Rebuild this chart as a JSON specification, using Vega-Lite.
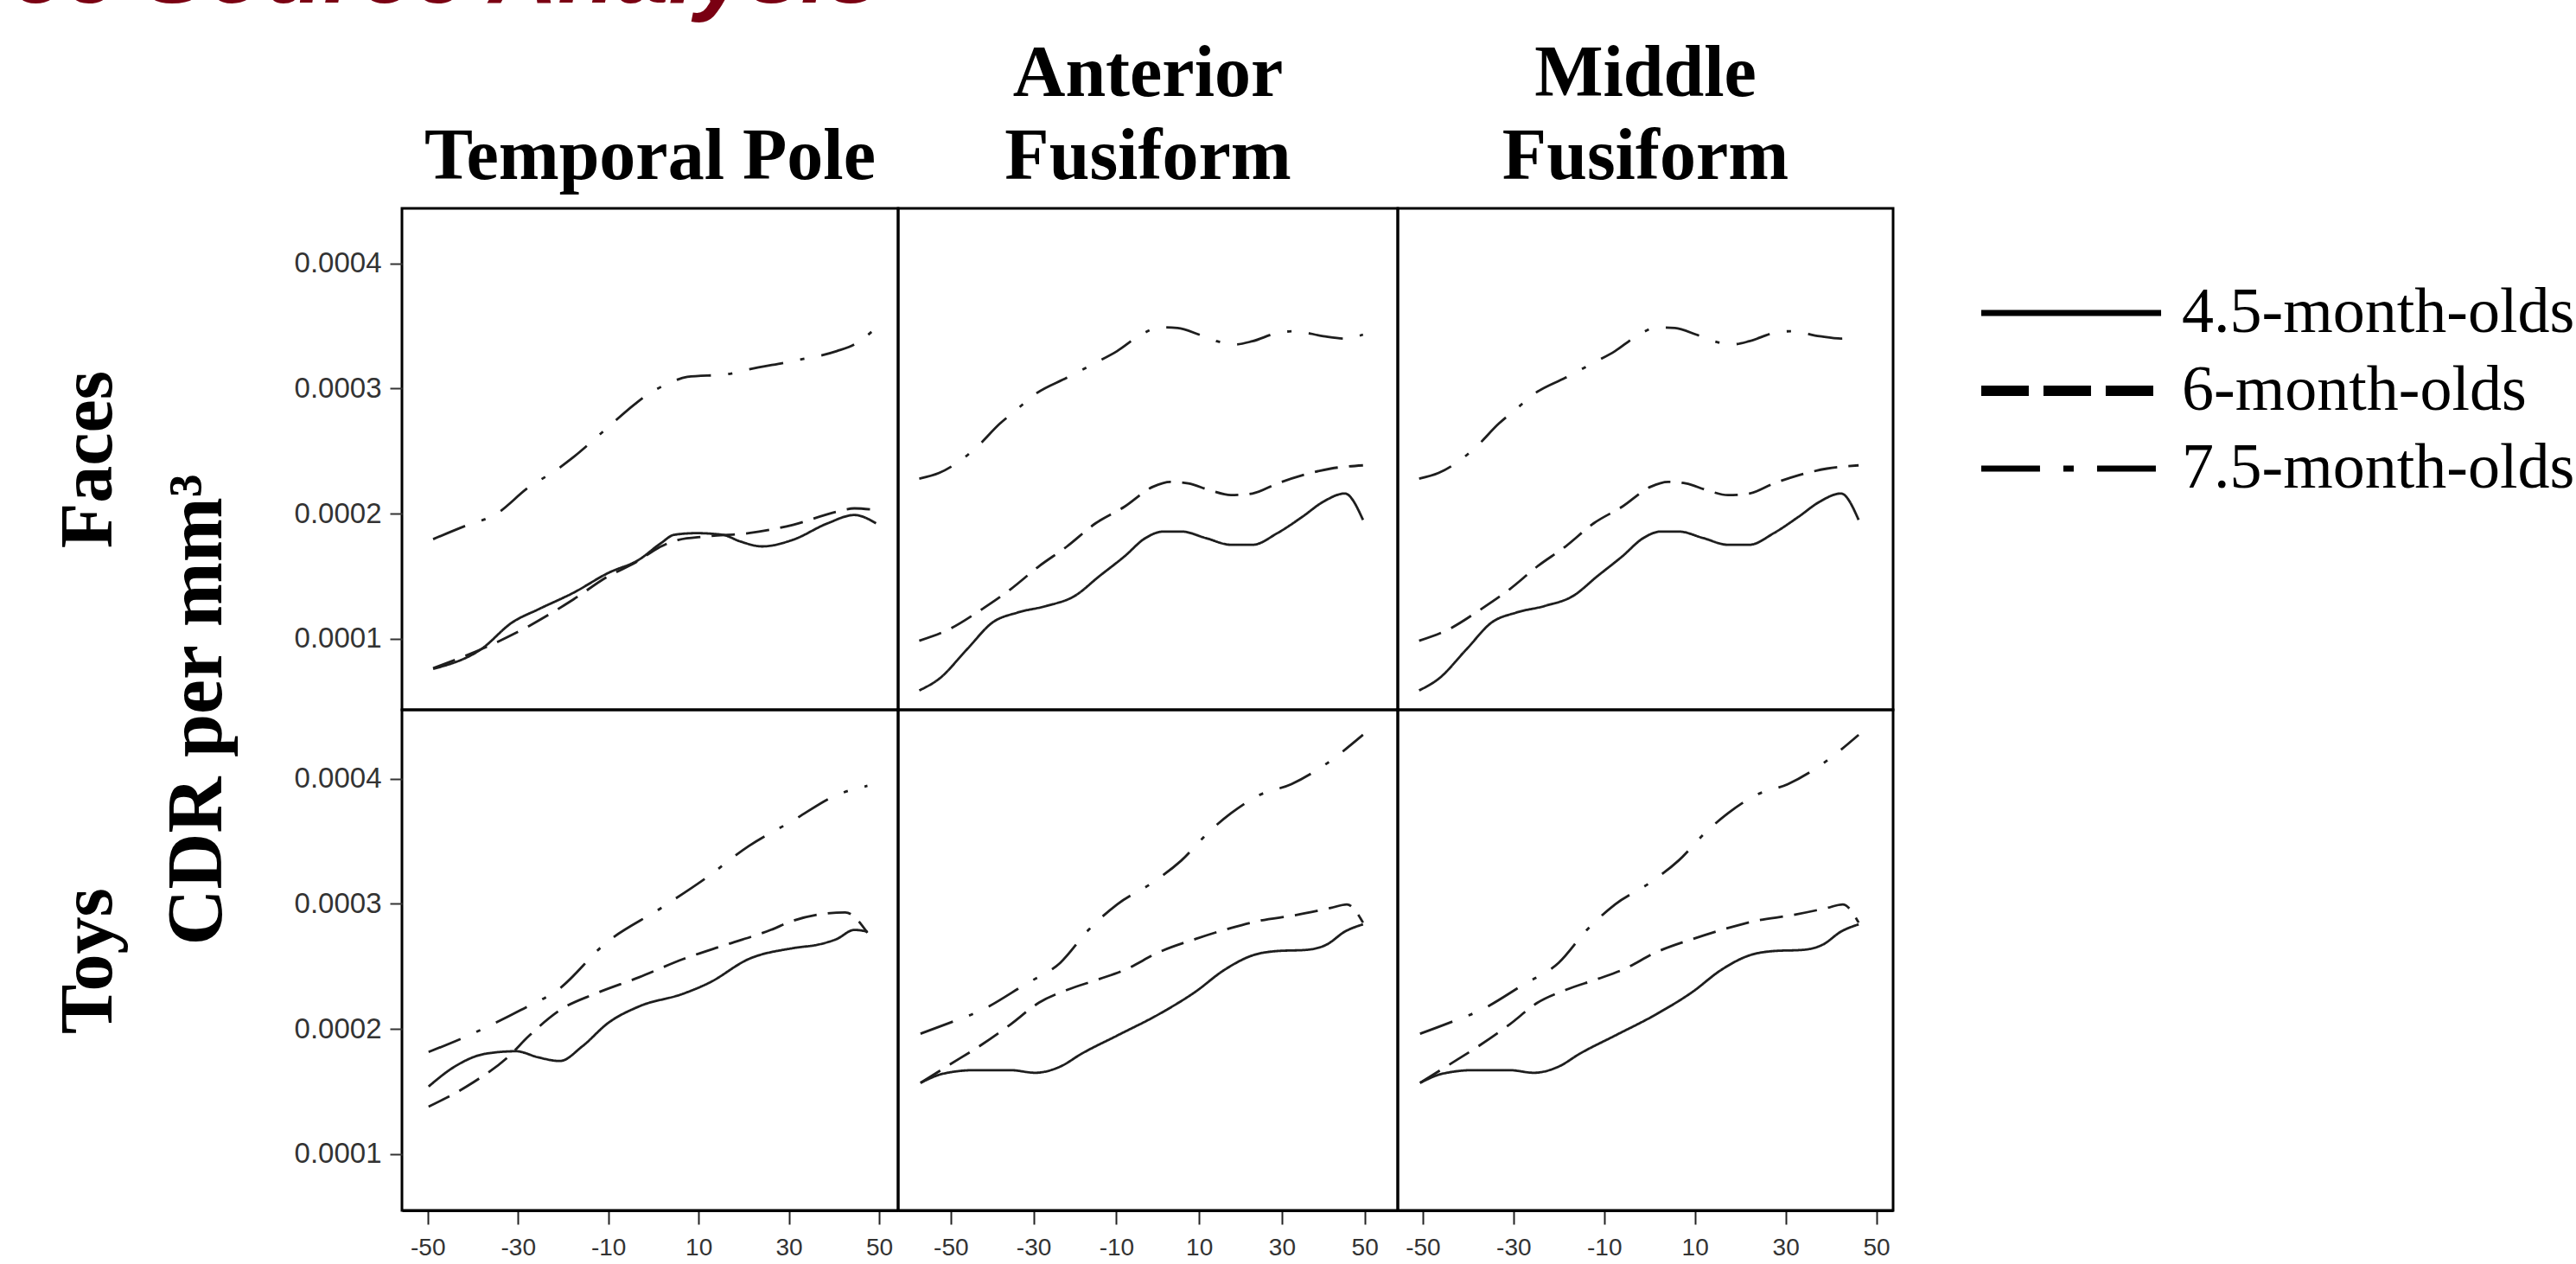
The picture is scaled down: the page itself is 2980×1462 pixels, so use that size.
{
  "$schema": "https://vega.github.io/schema/vega-lite/v6.json",
  "background": "white",
  "padding": {"left": 13, "top": -86, "right": 0, "bottom": 0},
  "title": {"text": "ce Source Analysis", "anchor": "start", "frame": "bounds", "font": "Liberation Sans", "fontSize": 110, "fontWeight": "bold", "fontStyle": "italic", "color": "#7a0012", "baseline": "alphabetic", "offset": -70, "dx": -44},
  "datasets": {
    "curves": [
      {"region":"Temporal Pole","stimulus":"Faces","age":"7.5-month-olds","x":-48.8,"cdr":0.0001796},
      {"region":"Temporal Pole","stimulus":"Faces","age":"7.5-month-olds","x":-41.1,"cdr":0.0001910},
      {"region":"Temporal Pole","stimulus":"Faces","age":"7.5-month-olds","x":-35.2,"cdr":0.0001989},
      {"region":"Temporal Pole","stimulus":"Faces","age":"7.5-month-olds","x":-27.5,"cdr":0.0002214},
      {"region":"Temporal Pole","stimulus":"Faces","age":"7.5-month-olds","x":-21.6,"cdr":0.0002347},
      {"region":"Temporal Pole","stimulus":"Faces","age":"7.5-month-olds","x":-17.7,"cdr":0.0002452},
      {"region":"Temporal Pole","stimulus":"Faces","age":"7.5-month-olds","x":-10.9,"cdr":0.0002664},
      {"region":"Temporal Pole","stimulus":"Faces","age":"7.5-month-olds","x":-4.1,"cdr":0.0002876},
      {"region":"Temporal Pole","stimulus":"Faces","age":"7.5-month-olds","x":-1.2,"cdr":0.0002955},
      {"region":"Temporal Pole","stimulus":"Faces","age":"7.5-month-olds","x":2.7,"cdr":0.0003029},
      {"region":"Temporal Pole","stimulus":"Faces","age":"7.5-month-olds","x":7.5,"cdr":0.0003093},
      {"region":"Temporal Pole","stimulus":"Faces","age":"7.5-month-olds","x":16.3,"cdr":0.0003114},
      {"region":"Temporal Pole","stimulus":"Faces","age":"7.5-month-olds","x":21.1,"cdr":0.0003153},
      {"region":"Temporal Pole","stimulus":"Faces","age":"7.5-month-olds","x":30.9,"cdr":0.0003220},
      {"region":"Temporal Pole","stimulus":"Faces","age":"7.5-month-olds","x":40.6,"cdr":0.0003299},
      {"region":"Temporal Pole","stimulus":"Faces","age":"7.5-month-olds","x":44.5,"cdr":0.0003352},
      {"region":"Temporal Pole","stimulus":"Faces","age":"7.5-month-olds","x":49.3,"cdr":0.0003484},
      {"region":"Temporal Pole","stimulus":"Faces","age":"6-month-olds","x":-48.8,"cdr":0.0000765},
      {"region":"Temporal Pole","stimulus":"Faces","age":"6-month-olds","x":-37.2,"cdr":0.0000931},
      {"region":"Temporal Pole","stimulus":"Faces","age":"6-month-olds","x":-27.5,"cdr":0.0001103},
      {"region":"Temporal Pole","stimulus":"Faces","age":"6-month-olds","x":-17.7,"cdr":0.0001315},
      {"region":"Temporal Pole","stimulus":"Faces","age":"6-month-olds","x":-10.0,"cdr":0.0001500},
      {"region":"Temporal Pole","stimulus":"Faces","age":"6-month-olds","x":-4.1,"cdr":0.0001606},
      {"region":"Temporal Pole","stimulus":"Faces","age":"6-month-olds","x":1.7,"cdr":0.0001738},
      {"region":"Temporal Pole","stimulus":"Faces","age":"6-month-olds","x":5.6,"cdr":0.0001791},
      {"region":"Temporal Pole","stimulus":"Faces","age":"6-month-olds","x":11.4,"cdr":0.0001817},
      {"region":"Temporal Pole","stimulus":"Faces","age":"6-month-olds","x":21.1,"cdr":0.0001844},
      {"region":"Temporal Pole","stimulus":"Faces","age":"6-month-olds","x":30.9,"cdr":0.0001910},
      {"region":"Temporal Pole","stimulus":"Faces","age":"6-month-olds","x":40.6,"cdr":0.0002016},
      {"region":"Temporal Pole","stimulus":"Faces","age":"6-month-olds","x":44.5,"cdr":0.0002042},
      {"region":"Temporal Pole","stimulus":"Faces","age":"6-month-olds","x":49.3,"cdr":0.0002029},
      {"region":"Temporal Pole","stimulus":"Faces","age":"4.5-month-olds","x":-48.8,"cdr":0.0000759},
      {"region":"Temporal Pole","stimulus":"Faces","age":"4.5-month-olds","x":-38.1,"cdr":0.0000918},
      {"region":"Temporal Pole","stimulus":"Faces","age":"4.5-month-olds","x":-31.3,"cdr":0.0001130},
      {"region":"Temporal Pole","stimulus":"Faces","age":"4.5-month-olds","x":-25.5,"cdr":0.0001235},
      {"region":"Temporal Pole","stimulus":"Faces","age":"4.5-month-olds","x":-17.7,"cdr":0.0001368},
      {"region":"Temporal Pole","stimulus":"Faces","age":"4.5-month-olds","x":-10.0,"cdr":0.0001526},
      {"region":"Temporal Pole","stimulus":"Faces","age":"4.5-month-olds","x":-3.2,"cdr":0.0001632},
      {"region":"Temporal Pole","stimulus":"Faces","age":"4.5-month-olds","x":1.7,"cdr":0.0001765},
      {"region":"Temporal Pole","stimulus":"Faces","age":"4.5-month-olds","x":4.6,"cdr":0.0001831},
      {"region":"Temporal Pole","stimulus":"Faces","age":"4.5-month-olds","x":9.5,"cdr":0.0001844},
      {"region":"Temporal Pole","stimulus":"Faces","age":"4.5-month-olds","x":15.3,"cdr":0.0001831},
      {"region":"Temporal Pole","stimulus":"Faces","age":"4.5-month-olds","x":19.2,"cdr":0.0001778},
      {"region":"Temporal Pole","stimulus":"Faces","age":"4.5-month-olds","x":24.1,"cdr":0.0001738},
      {"region":"Temporal Pole","stimulus":"Faces","age":"4.5-month-olds","x":30.9,"cdr":0.0001791},
      {"region":"Temporal Pole","stimulus":"Faces","age":"4.5-month-olds","x":38.6,"cdr":0.0001923},
      {"region":"Temporal Pole","stimulus":"Faces","age":"4.5-month-olds","x":44.5,"cdr":0.0001989},
      {"region":"Temporal Pole","stimulus":"Faces","age":"4.5-month-olds","x":49.3,"cdr":0.0001923},

      {"region":"Temporal Pole","stimulus":"Toys","age":"7.5-month-olds","x":-49.8,"cdr":0.0001815},
      {"region":"Temporal Pole","stimulus":"Toys","age":"7.5-month-olds","x":-40.1,"cdr":0.0001961},
      {"region":"Temporal Pole","stimulus":"Toys","age":"7.5-month-olds","x":-29.4,"cdr":0.0002150},
      {"region":"Temporal Pole","stimulus":"Toys","age":"7.5-month-olds","x":-20.7,"cdr":0.0002325},
      {"region":"Temporal Pole","stimulus":"Toys","age":"7.5-month-olds","x":-10.9,"cdr":0.0002675},
      {"region":"Temporal Pole","stimulus":"Toys","age":"7.5-month-olds","x":1.7,"cdr":0.0002966},
      {"region":"Temporal Pole","stimulus":"Toys","age":"7.5-month-olds","x":11.4,"cdr":0.0003199},
      {"region":"Temporal Pole","stimulus":"Toys","age":"7.5-month-olds","x":21.1,"cdr":0.0003461},
      {"region":"Temporal Pole","stimulus":"Toys","age":"7.5-month-olds","x":30.9,"cdr":0.0003665},
      {"region":"Temporal Pole","stimulus":"Toys","age":"7.5-month-olds","x":40.6,"cdr":0.0003869},
      {"region":"Temporal Pole","stimulus":"Toys","age":"7.5-month-olds","x":47.4,"cdr":0.0003942},
      {"region":"Temporal Pole","stimulus":"Toys","age":"6-month-olds","x":-49.8,"cdr":0.0001378},
      {"region":"Temporal Pole","stimulus":"Toys","age":"6-month-olds","x":-40.1,"cdr":0.0001568},
      {"region":"Temporal Pole","stimulus":"Toys","age":"6-month-olds","x":-32.3,"cdr":0.0001772},
      {"region":"Temporal Pole","stimulus":"Toys","age":"6-month-olds","x":-27.5,"cdr":0.0001946},
      {"region":"Temporal Pole","stimulus":"Toys","age":"6-month-olds","x":-20.7,"cdr":0.0002150},
      {"region":"Temporal Pole","stimulus":"Toys","age":"6-month-olds","x":-12.9,"cdr":0.0002281},
      {"region":"Temporal Pole","stimulus":"Toys","age":"6-month-olds","x":-3.2,"cdr":0.0002412},
      {"region":"Temporal Pole","stimulus":"Toys","age":"6-month-olds","x":6.6,"cdr":0.0002558},
      {"region":"Temporal Pole","stimulus":"Toys","age":"6-month-olds","x":16.3,"cdr":0.0002675},
      {"region":"Temporal Pole","stimulus":"Toys","age":"6-month-olds","x":26.0,"cdr":0.0002791},
      {"region":"Temporal Pole","stimulus":"Toys","age":"6-month-olds","x":30.9,"cdr":0.0002864},
      {"region":"Temporal Pole","stimulus":"Toys","age":"6-month-olds","x":42.5,"cdr":0.0002931},
      {"region":"Temporal Pole","stimulus":"Toys","age":"6-month-olds","x":47.4,"cdr":0.0002768},
      {"region":"Temporal Pole","stimulus":"Toys","age":"4.5-month-olds","x":-49.8,"cdr":0.0001539},
      {"region":"Temporal Pole","stimulus":"Toys","age":"4.5-month-olds","x":-44.0,"cdr":0.0001699},
      {"region":"Temporal Pole","stimulus":"Toys","age":"4.5-month-olds","x":-37.2,"cdr":0.0001801},
      {"region":"Temporal Pole","stimulus":"Toys","age":"4.5-month-olds","x":-30.4,"cdr":0.0001821},
      {"region":"Temporal Pole","stimulus":"Toys","age":"4.5-month-olds","x":-25.5,"cdr":0.0001772},
      {"region":"Temporal Pole","stimulus":"Toys","age":"4.5-month-olds","x":-20.7,"cdr":0.0001743},
      {"region":"Temporal Pole","stimulus":"Toys","age":"4.5-month-olds","x":-15.8,"cdr":0.0001859},
      {"region":"Temporal Pole","stimulus":"Toys","age":"4.5-month-olds","x":-10.0,"cdr":0.0002048},
      {"region":"Temporal Pole","stimulus":"Toys","age":"4.5-month-olds","x":-3.2,"cdr":0.0002179},
      {"region":"Temporal Pole","stimulus":"Toys","age":"4.5-month-olds","x":6.6,"cdr":0.0002281},
      {"region":"Temporal Pole","stimulus":"Toys","age":"4.5-month-olds","x":12.4,"cdr":0.0002369},
      {"region":"Temporal Pole","stimulus":"Toys","age":"4.5-month-olds","x":21.1,"cdr":0.0002558},
      {"region":"Temporal Pole","stimulus":"Toys","age":"4.5-month-olds","x":30.9,"cdr":0.0002645},
      {"region":"Temporal Pole","stimulus":"Toys","age":"4.5-month-olds","x":36.7,"cdr":0.0002675},
      {"region":"Temporal Pole","stimulus":"Toys","age":"4.5-month-olds","x":40.6,"cdr":0.0002718},
      {"region":"Temporal Pole","stimulus":"Toys","age":"4.5-month-olds","x":44.5,"cdr":0.0002791},
      {"region":"Temporal Pole","stimulus":"Toys","age":"4.5-month-olds","x":47.4,"cdr":0.0002777},

      {"region":"Middle Fusiform","stimulus":"Faces","age":"7.5-month-olds","x":-50.8,"cdr":0.0002280},
      {"region":"Middle Fusiform","stimulus":"Faces","age":"7.5-month-olds","x":-46.5,"cdr":0.0002325},
      {"region":"Middle Fusiform","stimulus":"Faces","age":"7.5-month-olds","x":-41.8,"cdr":0.0002426},
      {"region":"Middle Fusiform","stimulus":"Faces","age":"7.5-month-olds","x":-37.9,"cdr":0.0002545},
      {"region":"Middle Fusiform","stimulus":"Faces","age":"7.5-month-olds","x":-33.3,"cdr":0.0002717},
      {"region":"Middle Fusiform","stimulus":"Faces","age":"7.5-month-olds","x":-29.4,"cdr":0.0002836},
      {"region":"Middle Fusiform","stimulus":"Faces","age":"7.5-month-olds","x":-25.5,"cdr":0.0002955},
      {"region":"Middle Fusiform","stimulus":"Faces","age":"7.5-month-olds","x":-18.5,"cdr":0.0003087},
      {"region":"Middle Fusiform","stimulus":"Faces","age":"7.5-month-olds","x":-12.3,"cdr":0.0003206},
      {"region":"Middle Fusiform","stimulus":"Faces","age":"7.5-month-olds","x":-7.6,"cdr":0.0003299},
      {"region":"Middle Fusiform","stimulus":"Faces","age":"7.5-month-olds","x":-2.9,"cdr":0.0003418},
      {"region":"Middle Fusiform","stimulus":"Faces","age":"7.5-month-olds","x":1.7,"cdr":0.0003489},
      {"region":"Middle Fusiform","stimulus":"Faces","age":"7.5-month-olds","x":5.6,"cdr":0.0003484},
      {"region":"Middle Fusiform","stimulus":"Faces","age":"7.5-month-olds","x":10.3,"cdr":0.0003431},
      {"region":"Middle Fusiform","stimulus":"Faces","age":"7.5-month-olds","x":14.2,"cdr":0.0003378},
      {"region":"Middle Fusiform","stimulus":"Faces","age":"7.5-month-olds","x":18.1,"cdr":0.0003352},
      {"region":"Middle Fusiform","stimulus":"Faces","age":"7.5-month-olds","x":22.0,"cdr":0.0003378},
      {"region":"Middle Fusiform","stimulus":"Faces","age":"7.5-month-olds","x":27.4,"cdr":0.0003444},
      {"region":"Middle Fusiform","stimulus":"Faces","age":"7.5-month-olds","x":31.3,"cdr":0.0003458},
      {"region":"Middle Fusiform","stimulus":"Faces","age":"7.5-month-olds","x":37.5,"cdr":0.0003418},
      {"region":"Middle Fusiform","stimulus":"Faces","age":"7.5-month-olds","x":42.2,"cdr":0.0003399},
      {"region":"Middle Fusiform","stimulus":"Faces","age":"7.5-month-olds","x":46.1,"cdr":0.0003431},
      {"region":"Middle Fusiform","stimulus":"Faces","age":"6-month-olds","x":-50.8,"cdr":0.0000984},
      {"region":"Middle Fusiform","stimulus":"Faces","age":"6-month-olds","x":-44.2,"cdr":0.0001077},
      {"region":"Middle Fusiform","stimulus":"Faces","age":"6-month-olds","x":-37.2,"cdr":0.0001235},
      {"region":"Middle Fusiform","stimulus":"Faces","age":"6-month-olds","x":-30.9,"cdr":0.0001394},
      {"region":"Middle Fusiform","stimulus":"Faces","age":"6-month-olds","x":-24.7,"cdr":0.0001579},
      {"region":"Middle Fusiform","stimulus":"Faces","age":"6-month-olds","x":-18.5,"cdr":0.0001738},
      {"region":"Middle Fusiform","stimulus":"Faces","age":"6-month-olds","x":-12.3,"cdr":0.0001923},
      {"region":"Middle Fusiform","stimulus":"Faces","age":"6-month-olds","x":-6.0,"cdr":0.0002056},
      {"region":"Middle Fusiform","stimulus":"Faces","age":"6-month-olds","x":0.2,"cdr":0.0002214},
      {"region":"Middle Fusiform","stimulus":"Faces","age":"6-month-olds","x":4.1,"cdr":0.0002254},
      {"region":"Middle Fusiform","stimulus":"Faces","age":"6-month-olds","x":8.0,"cdr":0.0002241},
      {"region":"Middle Fusiform","stimulus":"Faces","age":"6-month-olds","x":12.6,"cdr":0.0002188},
      {"region":"Middle Fusiform","stimulus":"Faces","age":"6-month-olds","x":17.3,"cdr":0.0002148},
      {"region":"Middle Fusiform","stimulus":"Faces","age":"6-month-olds","x":22.0,"cdr":0.0002161},
      {"region":"Middle Fusiform","stimulus":"Faces","age":"6-month-olds","x":27.4,"cdr":0.0002241},
      {"region":"Middle Fusiform","stimulus":"Faces","age":"6-month-olds","x":32.9,"cdr":0.0002307},
      {"region":"Middle Fusiform","stimulus":"Faces","age":"6-month-olds","x":39.1,"cdr":0.0002360},
      {"region":"Middle Fusiform","stimulus":"Faces","age":"6-month-olds","x":46.1,"cdr":0.0002386},
      {"region":"Middle Fusiform","stimulus":"Faces","age":"4.5-month-olds","x":-50.8,"cdr":0.0000587},
      {"region":"Middle Fusiform","stimulus":"Faces","age":"4.5-month-olds","x":-46.5,"cdr":0.0000680},
      {"region":"Middle Fusiform","stimulus":"Faces","age":"4.5-month-olds","x":-40.3,"cdr":0.0000918},
      {"region":"Middle Fusiform","stimulus":"Faces","age":"4.5-month-olds","x":-34.8,"cdr":0.0001130},
      {"region":"Middle Fusiform","stimulus":"Faces","age":"4.5-month-olds","x":-29.4,"cdr":0.0001209},
      {"region":"Middle Fusiform","stimulus":"Faces","age":"4.5-month-olds","x":-23.1,"cdr":0.0001262},
      {"region":"Middle Fusiform","stimulus":"Faces","age":"4.5-month-olds","x":-16.9,"cdr":0.0001341},
      {"region":"Middle Fusiform","stimulus":"Faces","age":"4.5-month-olds","x":-11.5,"cdr":0.0001500},
      {"region":"Middle Fusiform","stimulus":"Faces","age":"4.5-month-olds","x":-6.0,"cdr":0.0001659},
      {"region":"Middle Fusiform","stimulus":"Faces","age":"4.5-month-olds","x":-1.4,"cdr":0.0001804},
      {"region":"Middle Fusiform","stimulus":"Faces","age":"4.5-month-olds","x":2.5,"cdr":0.0001857},
      {"region":"Middle Fusiform","stimulus":"Faces","age":"4.5-month-olds","x":6.4,"cdr":0.0001857},
      {"region":"Middle Fusiform","stimulus":"Faces","age":"4.5-month-olds","x":11.9,"cdr":0.0001804},
      {"region":"Middle Fusiform","stimulus":"Faces","age":"4.5-month-olds","x":17.3,"cdr":0.0001751},
      {"region":"Middle Fusiform","stimulus":"Faces","age":"4.5-month-olds","x":22.0,"cdr":0.0001751},
      {"region":"Middle Fusiform","stimulus":"Faces","age":"4.5-month-olds","x":27.4,"cdr":0.0001844},
      {"region":"Middle Fusiform","stimulus":"Faces","age":"4.5-month-olds","x":32.9,"cdr":0.0001976},
      {"region":"Middle Fusiform","stimulus":"Faces","age":"4.5-month-olds","x":37.5,"cdr":0.0002095},
      {"region":"Middle Fusiform","stimulus":"Faces","age":"4.5-month-olds","x":42.2,"cdr":0.0002161},
      {"region":"Middle Fusiform","stimulus":"Faces","age":"4.5-month-olds","x":46.1,"cdr":0.0001950},

      {"region":"Middle Fusiform","stimulus":"Toys","age":"7.5-month-olds","x":-50.6,"cdr":0.0001961},
      {"region":"Middle Fusiform","stimulus":"Toys","age":"7.5-month-olds","x":-44.2,"cdr":0.0002048},
      {"region":"Middle Fusiform","stimulus":"Toys","age":"7.5-month-olds","x":-37.2,"cdr":0.0002150},
      {"region":"Middle Fusiform","stimulus":"Toys","age":"7.5-month-olds","x":-27.8,"cdr":0.0002354},
      {"region":"Middle Fusiform","stimulus":"Toys","age":"7.5-month-olds","x":-20.0,"cdr":0.0002529},
      {"region":"Middle Fusiform","stimulus":"Toys","age":"7.5-month-olds","x":-13.8,"cdr":0.0002791},
      {"region":"Middle Fusiform","stimulus":"Toys","age":"7.5-month-olds","x":-7.6,"cdr":0.0002995},
      {"region":"Middle Fusiform","stimulus":"Toys","age":"7.5-month-olds","x":0.2,"cdr":0.0003170},
      {"region":"Middle Fusiform","stimulus":"Toys","age":"7.5-month-olds","x":6.4,"cdr":0.0003345},
      {"region":"Middle Fusiform","stimulus":"Toys","age":"7.5-month-olds","x":12.6,"cdr":0.0003578},
      {"region":"Middle Fusiform","stimulus":"Toys","age":"7.5-month-olds","x":17.3,"cdr":0.0003723},
      {"region":"Middle Fusiform","stimulus":"Toys","age":"7.5-month-olds","x":23.5,"cdr":0.0003869},
      {"region":"Middle Fusiform","stimulus":"Toys","age":"7.5-month-olds","x":30.5,"cdr":0.0003956},
      {"region":"Middle Fusiform","stimulus":"Toys","age":"7.5-month-olds","x":37.5,"cdr":0.0004102},
      {"region":"Middle Fusiform","stimulus":"Toys","age":"7.5-month-olds","x":46.1,"cdr":0.0004350},
      {"region":"Middle Fusiform","stimulus":"Toys","age":"6-month-olds","x":-50.6,"cdr":0.0001568},
      {"region":"Middle Fusiform","stimulus":"Toys","age":"6-month-olds","x":-44.2,"cdr":0.0001713},
      {"region":"Middle Fusiform","stimulus":"Toys","age":"6-month-olds","x":-37.2,"cdr":0.0001874},
      {"region":"Middle Fusiform","stimulus":"Toys","age":"6-month-olds","x":-30.9,"cdr":0.0002034},
      {"region":"Middle Fusiform","stimulus":"Toys","age":"6-month-olds","x":-24.7,"cdr":0.0002209},
      {"region":"Middle Fusiform","stimulus":"Toys","age":"6-month-olds","x":-18.5,"cdr":0.0002311},
      {"region":"Middle Fusiform","stimulus":"Toys","age":"6-month-olds","x":-11.5,"cdr":0.0002398},
      {"region":"Middle Fusiform","stimulus":"Toys","age":"6-month-olds","x":-6.0,"cdr":0.0002471},
      {"region":"Middle Fusiform","stimulus":"Toys","age":"6-month-olds","x":1.7,"cdr":0.0002616},
      {"region":"Middle Fusiform","stimulus":"Toys","age":"6-month-olds","x":9.5,"cdr":0.0002718},
      {"region":"Middle Fusiform","stimulus":"Toys","age":"6-month-olds","x":17.3,"cdr":0.0002806},
      {"region":"Middle Fusiform","stimulus":"Toys","age":"6-month-olds","x":23.5,"cdr":0.0002864},
      {"region":"Middle Fusiform","stimulus":"Toys","age":"6-month-olds","x":31.3,"cdr":0.0002908},
      {"region":"Middle Fusiform","stimulus":"Toys","age":"6-month-olds","x":39.1,"cdr":0.0002966},
      {"region":"Middle Fusiform","stimulus":"Toys","age":"6-month-olds","x":42.6,"cdr":0.0002995},
      {"region":"Middle Fusiform","stimulus":"Toys","age":"6-month-olds","x":46.1,"cdr":0.0002849},
      {"region":"Middle Fusiform","stimulus":"Toys","age":"4.5-month-olds","x":-50.6,"cdr":0.0001568},
      {"region":"Middle Fusiform","stimulus":"Toys","age":"4.5-month-olds","x":-45.7,"cdr":0.0001641},
      {"region":"Middle Fusiform","stimulus":"Toys","age":"4.5-month-olds","x":-38.7,"cdr":0.0001670},
      {"region":"Middle Fusiform","stimulus":"Toys","age":"4.5-month-olds","x":-30.9,"cdr":0.0001670},
      {"region":"Middle Fusiform","stimulus":"Toys","age":"4.5-month-olds","x":-25.5,"cdr":0.0001649},
      {"region":"Middle Fusiform","stimulus":"Toys","age":"4.5-month-olds","x":-20.0,"cdr":0.0001699},
      {"region":"Middle Fusiform","stimulus":"Toys","age":"4.5-month-olds","x":-15.4,"cdr":0.0001801},
      {"region":"Middle Fusiform","stimulus":"Toys","age":"4.5-month-olds","x":-7.6,"cdr":0.0001946},
      {"region":"Middle Fusiform","stimulus":"Toys","age":"4.5-month-olds","x":1.7,"cdr":0.0002121},
      {"region":"Middle Fusiform","stimulus":"Toys","age":"4.5-month-olds","x":9.5,"cdr":0.0002296},
      {"region":"Middle Fusiform","stimulus":"Toys","age":"4.5-month-olds","x":15.8,"cdr":0.0002471},
      {"region":"Middle Fusiform","stimulus":"Toys","age":"4.5-month-olds","x":22.0,"cdr":0.0002587},
      {"region":"Middle Fusiform","stimulus":"Toys","age":"4.5-month-olds","x":27.4,"cdr":0.0002622},
      {"region":"Middle Fusiform","stimulus":"Toys","age":"4.5-month-olds","x":33.7,"cdr":0.0002631},
      {"region":"Middle Fusiform","stimulus":"Toys","age":"4.5-month-olds","x":38.3,"cdr":0.0002675},
      {"region":"Middle Fusiform","stimulus":"Toys","age":"4.5-month-olds","x":42.2,"cdr":0.0002777},
      {"region":"Middle Fusiform","stimulus":"Toys","age":"4.5-month-olds","x":46.1,"cdr":0.0002835},

      {"region":"Anterior Fusiform","stimulus":"Faces","age":"7.5-month-olds","x":-57.6,"cdr":0.0002280},
      {"region":"Anterior Fusiform","stimulus":"Faces","age":"7.5-month-olds","x":-52.8,"cdr":0.0002325},
      {"region":"Anterior Fusiform","stimulus":"Faces","age":"7.5-month-olds","x":-47.6,"cdr":0.0002426},
      {"region":"Anterior Fusiform","stimulus":"Faces","age":"7.5-month-olds","x":-43.3,"cdr":0.0002545},
      {"region":"Anterior Fusiform","stimulus":"Faces","age":"7.5-month-olds","x":-38.2,"cdr":0.0002717},
      {"region":"Anterior Fusiform","stimulus":"Faces","age":"7.5-month-olds","x":-33.9,"cdr":0.0002836},
      {"region":"Anterior Fusiform","stimulus":"Faces","age":"7.5-month-olds","x":-29.6,"cdr":0.0002955},
      {"region":"Anterior Fusiform","stimulus":"Faces","age":"7.5-month-olds","x":-21.9,"cdr":0.0003087},
      {"region":"Anterior Fusiform","stimulus":"Faces","age":"7.5-month-olds","x":-15.0,"cdr":0.0003206},
      {"region":"Anterior Fusiform","stimulus":"Faces","age":"7.5-month-olds","x":-9.8,"cdr":0.0003299},
      {"region":"Anterior Fusiform","stimulus":"Faces","age":"7.5-month-olds","x":-4.6,"cdr":0.0003418},
      {"region":"Anterior Fusiform","stimulus":"Faces","age":"7.5-month-olds","x":0.5,"cdr":0.0003489},
      {"region":"Anterior Fusiform","stimulus":"Faces","age":"7.5-month-olds","x":4.8,"cdr":0.0003484},
      {"region":"Anterior Fusiform","stimulus":"Faces","age":"7.5-month-olds","x":10.0,"cdr":0.0003431},
      {"region":"Anterior Fusiform","stimulus":"Faces","age":"7.5-month-olds","x":14.3,"cdr":0.0003378},
      {"region":"Anterior Fusiform","stimulus":"Faces","age":"7.5-month-olds","x":18.6,"cdr":0.0003352},
      {"region":"Anterior Fusiform","stimulus":"Faces","age":"7.5-month-olds","x":22.9,"cdr":0.0003378},
      {"region":"Anterior Fusiform","stimulus":"Faces","age":"7.5-month-olds","x":28.9,"cdr":0.0003444},
      {"region":"Anterior Fusiform","stimulus":"Faces","age":"7.5-month-olds","x":33.2,"cdr":0.0003458},
      {"region":"Anterior Fusiform","stimulus":"Faces","age":"7.5-month-olds","x":40.0,"cdr":0.0003418},
      {"region":"Anterior Fusiform","stimulus":"Faces","age":"7.5-month-olds","x":45.2,"cdr":0.0003399},
      {"region":"Anterior Fusiform","stimulus":"Faces","age":"7.5-month-olds","x":49.6,"cdr":0.0003431},
      {"region":"Anterior Fusiform","stimulus":"Faces","age":"6-month-olds","x":-57.6,"cdr":0.0000984},
      {"region":"Anterior Fusiform","stimulus":"Faces","age":"6-month-olds","x":-50.3,"cdr":0.0001077},
      {"region":"Anterior Fusiform","stimulus":"Faces","age":"6-month-olds","x":-42.5,"cdr":0.0001235},
      {"region":"Anterior Fusiform","stimulus":"Faces","age":"6-month-olds","x":-35.6,"cdr":0.0001394},
      {"region":"Anterior Fusiform","stimulus":"Faces","age":"6-month-olds","x":-28.7,"cdr":0.0001579},
      {"region":"Anterior Fusiform","stimulus":"Faces","age":"6-month-olds","x":-21.9,"cdr":0.0001738},
      {"region":"Anterior Fusiform","stimulus":"Faces","age":"6-month-olds","x":-15.0,"cdr":0.0001923},
      {"region":"Anterior Fusiform","stimulus":"Faces","age":"6-month-olds","x":-8.0,"cdr":0.0002056},
      {"region":"Anterior Fusiform","stimulus":"Faces","age":"6-month-olds","x":-1.2,"cdr":0.0002214},
      {"region":"Anterior Fusiform","stimulus":"Faces","age":"6-month-olds","x":3.1,"cdr":0.0002254},
      {"region":"Anterior Fusiform","stimulus":"Faces","age":"6-month-olds","x":7.4,"cdr":0.0002241},
      {"region":"Anterior Fusiform","stimulus":"Faces","age":"6-month-olds","x":12.5,"cdr":0.0002188},
      {"region":"Anterior Fusiform","stimulus":"Faces","age":"6-month-olds","x":17.7,"cdr":0.0002148},
      {"region":"Anterior Fusiform","stimulus":"Faces","age":"6-month-olds","x":22.9,"cdr":0.0002161},
      {"region":"Anterior Fusiform","stimulus":"Faces","age":"6-month-olds","x":28.9,"cdr":0.0002241},
      {"region":"Anterior Fusiform","stimulus":"Faces","age":"6-month-olds","x":35.0,"cdr":0.0002307},
      {"region":"Anterior Fusiform","stimulus":"Faces","age":"6-month-olds","x":41.8,"cdr":0.0002360},
      {"region":"Anterior Fusiform","stimulus":"Faces","age":"6-month-olds","x":49.6,"cdr":0.0002386},
      {"region":"Anterior Fusiform","stimulus":"Faces","age":"4.5-month-olds","x":-57.6,"cdr":0.0000587},
      {"region":"Anterior Fusiform","stimulus":"Faces","age":"4.5-month-olds","x":-52.8,"cdr":0.0000680},
      {"region":"Anterior Fusiform","stimulus":"Faces","age":"4.5-month-olds","x":-46.0,"cdr":0.0000918},
      {"region":"Anterior Fusiform","stimulus":"Faces","age":"4.5-month-olds","x":-39.9,"cdr":0.0001130},
      {"region":"Anterior Fusiform","stimulus":"Faces","age":"4.5-month-olds","x":-33.9,"cdr":0.0001209},
      {"region":"Anterior Fusiform","stimulus":"Faces","age":"4.5-month-olds","x":-26.9,"cdr":0.0001262},
      {"region":"Anterior Fusiform","stimulus":"Faces","age":"4.5-month-olds","x":-20.1,"cdr":0.0001341},
      {"region":"Anterior Fusiform","stimulus":"Faces","age":"4.5-month-olds","x":-14.1,"cdr":0.0001500},
      {"region":"Anterior Fusiform","stimulus":"Faces","age":"4.5-month-olds","x":-8.0,"cdr":0.0001659},
      {"region":"Anterior Fusiform","stimulus":"Faces","age":"4.5-month-olds","x":-3.0,"cdr":0.0001804},
      {"region":"Anterior Fusiform","stimulus":"Faces","age":"4.5-month-olds","x":1.4,"cdr":0.0001857},
      {"region":"Anterior Fusiform","stimulus":"Faces","age":"4.5-month-olds","x":5.7,"cdr":0.0001857},
      {"region":"Anterior Fusiform","stimulus":"Faces","age":"4.5-month-olds","x":11.7,"cdr":0.0001804},
      {"region":"Anterior Fusiform","stimulus":"Faces","age":"4.5-month-olds","x":17.7,"cdr":0.0001751},
      {"region":"Anterior Fusiform","stimulus":"Faces","age":"4.5-month-olds","x":22.9,"cdr":0.0001751},
      {"region":"Anterior Fusiform","stimulus":"Faces","age":"4.5-month-olds","x":28.9,"cdr":0.0001844},
      {"region":"Anterior Fusiform","stimulus":"Faces","age":"4.5-month-olds","x":35.0,"cdr":0.0001976},
      {"region":"Anterior Fusiform","stimulus":"Faces","age":"4.5-month-olds","x":40.0,"cdr":0.0002095},
      {"region":"Anterior Fusiform","stimulus":"Faces","age":"4.5-month-olds","x":45.2,"cdr":0.0002161},
      {"region":"Anterior Fusiform","stimulus":"Faces","age":"4.5-month-olds","x":49.6,"cdr":0.0001950},

      {"region":"Anterior Fusiform","stimulus":"Toys","age":"7.5-month-olds","x":-57.3,"cdr":0.0001961},
      {"region":"Anterior Fusiform","stimulus":"Toys","age":"7.5-month-olds","x":-50.3,"cdr":0.0002048},
      {"region":"Anterior Fusiform","stimulus":"Toys","age":"7.5-month-olds","x":-42.5,"cdr":0.0002150},
      {"region":"Anterior Fusiform","stimulus":"Toys","age":"7.5-month-olds","x":-32.1,"cdr":0.0002354},
      {"region":"Anterior Fusiform","stimulus":"Toys","age":"7.5-month-olds","x":-23.5,"cdr":0.0002529},
      {"region":"Anterior Fusiform","stimulus":"Toys","age":"7.5-month-olds","x":-16.7,"cdr":0.0002791},
      {"region":"Anterior Fusiform","stimulus":"Toys","age":"7.5-month-olds","x":-9.8,"cdr":0.0002995},
      {"region":"Anterior Fusiform","stimulus":"Toys","age":"7.5-month-olds","x":-1.2,"cdr":0.0003170},
      {"region":"Anterior Fusiform","stimulus":"Toys","age":"7.5-month-olds","x":5.7,"cdr":0.0003345},
      {"region":"Anterior Fusiform","stimulus":"Toys","age":"7.5-month-olds","x":12.5,"cdr":0.0003578},
      {"region":"Anterior Fusiform","stimulus":"Toys","age":"7.5-month-olds","x":17.7,"cdr":0.0003723},
      {"region":"Anterior Fusiform","stimulus":"Toys","age":"7.5-month-olds","x":24.6,"cdr":0.0003869},
      {"region":"Anterior Fusiform","stimulus":"Toys","age":"7.5-month-olds","x":32.3,"cdr":0.0003956},
      {"region":"Anterior Fusiform","stimulus":"Toys","age":"7.5-month-olds","x":40.0,"cdr":0.0004102},
      {"region":"Anterior Fusiform","stimulus":"Toys","age":"7.5-month-olds","x":49.6,"cdr":0.0004350},
      {"region":"Anterior Fusiform","stimulus":"Toys","age":"6-month-olds","x":-57.3,"cdr":0.0001568},
      {"region":"Anterior Fusiform","stimulus":"Toys","age":"6-month-olds","x":-50.3,"cdr":0.0001713},
      {"region":"Anterior Fusiform","stimulus":"Toys","age":"6-month-olds","x":-42.5,"cdr":0.0001874},
      {"region":"Anterior Fusiform","stimulus":"Toys","age":"6-month-olds","x":-35.6,"cdr":0.0002034},
      {"region":"Anterior Fusiform","stimulus":"Toys","age":"6-month-olds","x":-28.7,"cdr":0.0002209},
      {"region":"Anterior Fusiform","stimulus":"Toys","age":"6-month-olds","x":-21.9,"cdr":0.0002311},
      {"region":"Anterior Fusiform","stimulus":"Toys","age":"6-month-olds","x":-14.1,"cdr":0.0002398},
      {"region":"Anterior Fusiform","stimulus":"Toys","age":"6-month-olds","x":-8.0,"cdr":0.0002471},
      {"region":"Anterior Fusiform","stimulus":"Toys","age":"6-month-olds","x":0.5,"cdr":0.0002616},
      {"region":"Anterior Fusiform","stimulus":"Toys","age":"6-month-olds","x":9.1,"cdr":0.0002718},
      {"region":"Anterior Fusiform","stimulus":"Toys","age":"6-month-olds","x":17.7,"cdr":0.0002806},
      {"region":"Anterior Fusiform","stimulus":"Toys","age":"6-month-olds","x":24.6,"cdr":0.0002864},
      {"region":"Anterior Fusiform","stimulus":"Toys","age":"6-month-olds","x":33.2,"cdr":0.0002908},
      {"region":"Anterior Fusiform","stimulus":"Toys","age":"6-month-olds","x":41.8,"cdr":0.0002966},
      {"region":"Anterior Fusiform","stimulus":"Toys","age":"6-month-olds","x":45.7,"cdr":0.0002995},
      {"region":"Anterior Fusiform","stimulus":"Toys","age":"6-month-olds","x":49.6,"cdr":0.0002849},
      {"region":"Anterior Fusiform","stimulus":"Toys","age":"4.5-month-olds","x":-57.3,"cdr":0.0001568},
      {"region":"Anterior Fusiform","stimulus":"Toys","age":"4.5-month-olds","x":-51.9,"cdr":0.0001641},
      {"region":"Anterior Fusiform","stimulus":"Toys","age":"4.5-month-olds","x":-44.2,"cdr":0.0001670},
      {"region":"Anterior Fusiform","stimulus":"Toys","age":"4.5-month-olds","x":-35.6,"cdr":0.0001670},
      {"region":"Anterior Fusiform","stimulus":"Toys","age":"4.5-month-olds","x":-29.6,"cdr":0.0001649},
      {"region":"Anterior Fusiform","stimulus":"Toys","age":"4.5-month-olds","x":-23.5,"cdr":0.0001699},
      {"region":"Anterior Fusiform","stimulus":"Toys","age":"4.5-month-olds","x":-18.4,"cdr":0.0001801},
      {"region":"Anterior Fusiform","stimulus":"Toys","age":"4.5-month-olds","x":-9.8,"cdr":0.0001946},
      {"region":"Anterior Fusiform","stimulus":"Toys","age":"4.5-month-olds","x":0.5,"cdr":0.0002121},
      {"region":"Anterior Fusiform","stimulus":"Toys","age":"4.5-month-olds","x":9.1,"cdr":0.0002296},
      {"region":"Anterior Fusiform","stimulus":"Toys","age":"4.5-month-olds","x":16.1,"cdr":0.0002471},
      {"region":"Anterior Fusiform","stimulus":"Toys","age":"4.5-month-olds","x":22.9,"cdr":0.0002587},
      {"region":"Anterior Fusiform","stimulus":"Toys","age":"4.5-month-olds","x":28.9,"cdr":0.0002622},
      {"region":"Anterior Fusiform","stimulus":"Toys","age":"4.5-month-olds","x":35.8,"cdr":0.0002631},
      {"region":"Anterior Fusiform","stimulus":"Toys","age":"4.5-month-olds","x":40.9,"cdr":0.0002675},
      {"region":"Anterior Fusiform","stimulus":"Toys","age":"4.5-month-olds","x":45.2,"cdr":0.0002777},
      {"region":"Anterior Fusiform","stimulus":"Toys","age":"4.5-month-olds","x":49.6,"cdr":0.0002835}
    ]
  },
  "data": {"name": "curves"},
  "columns": 3,
  "spacing": 0,
  "bounds": "flush",
  "resolve": {"scale": {"opacity": "shared"}, "legend": {"opacity": "shared"}},
  "concat": [
    {
      "width": 574, "height": 580,
      "title": {"text": "Temporal Pole", "font": "Liberation Serif", "fontWeight": "bold", "fontSize": 84, "color": "black", "anchor": "middle", "offset": 16},
      "transform": [{"filter": "datum.region === 'Temporal Pole' && datum.stimulus === 'Faces'"}],
      "mark": {"type": "line", "interpolate": "monotone", "strokeWidth": 2.8, "color": "#1e1e1e"},
      "encoding": {
        "x": {"field": "x", "type": "quantitative", "scale": {"domain": [-55.7, 54.2], "nice": false, "zero": false}, "axis": null},
        "y": {"field": "cdr", "type": "quantitative", "scale": {"domain": [0.0000432, 0.000444], "nice": false, "zero": false},
              "axis": {"values": [0.0001, 0.0002, 0.0003, 0.0004], "format": ".4f", "labelFont": "Liberation Sans", "labelFontSize": 33, "labelColor": "#333", "labelPadding": 10, "tickSize": 14, "tickWidth": 2, "tickColor": "#333", "domain": false, "grid": false, "labelFlush": false,
                       "title": "Faces", "titleFont": "Liberation Serif", "titleFontWeight": "bold", "titleFontSize": 86, "titleColor": "black", "titleAngle": 270, "titleX": -337, "titleY": 290, "titleAlign": "center", "titleBaseline": "alphabetic"}},
        "strokeDash": {"condition": [{"test": "datum.age === '6-month-olds'", "value": [27, 13]}, {"test": "datum.age === '7.5-month-olds'", "value": [40, 20, 5, 20]}], "value": [1, 0]},
        "opacity": {"field": "age", "type": "nominal", "scale": {"domain": ["4.5-month-olds", "6-month-olds", "7.5-month-olds"], "range": [1, 1, 1]},
                    "legend": {"title": null, "orient": "none", "legendX": 1894, "legendY": 84, "padding": 0, "labelFont": "Liberation Serif", "labelFontSize": 74, "labelColor": "black", "labelLimit": 0, "symbolType": "M-10,0L10,0", "symbolSize": 433, "symbolStrokeWidth": 7, "symbolStrokeColor": "black", "symbolOpacity": 1, "labelOffset": 91, "rowPadding": 16,
                               "encode": {"symbols": {"update": {"strokeDash": {"signal": "datum.value === '6-month-olds' ? [55,17] : datum.value === '7.5-month-olds' ? [68,27,12,27] : [1,0]"}, "strokeWidth": {"signal": "datum.value === '6-month-olds' ? 12 : 7"}, "stroke": {"value": "black"}, "opacity": {"value": 1}}}}}}
      }
    },
    {
      "width": 578, "height": 580,
      "title": {"text": ["Anterior", "Fusiform"], "font": "Liberation Serif", "fontWeight": "bold", "fontSize": 84, "lineHeight": 96, "color": "black", "anchor": "middle", "offset": 16},
      "transform": [{"filter": "datum.region === 'Anterior Fusiform' && datum.stimulus === 'Faces'"}],
      "mark": {"type": "line", "interpolate": "monotone", "strokeWidth": 2.8, "color": "#1e1e1e"},
      "encoding": {
        "x": {"field": "x", "type": "quantitative", "scale": {"domain": [-62.7, 58.0], "nice": false, "zero": false}, "axis": null},
        "y": {"field": "cdr", "type": "quantitative", "scale": {"domain": [0.0000432, 0.000444], "nice": false, "zero": false}, "axis": null},
        "strokeDash": {"condition": [{"test": "datum.age === '6-month-olds'", "value": [27, 13]}, {"test": "datum.age === '7.5-month-olds'", "value": [40, 20, 5, 20]}], "value": [1, 0]},
        "opacity": {"field": "age", "type": "nominal", "scale": {"domain": ["4.5-month-olds", "6-month-olds", "7.5-month-olds"], "range": [1, 1, 1]}, "legend": {"title": null}}
      }
    },
    {
      "width": 573, "height": 580,
      "title": {"text": ["Middle", "Fusiform"], "font": "Liberation Serif", "fontWeight": "bold", "fontSize": 84, "lineHeight": 96, "color": "black", "anchor": "middle", "offset": 16},
      "transform": [{"filter": "datum.region === 'Middle Fusiform' && datum.stimulus === 'Faces'"}],
      "mark": {"type": "line", "interpolate": "monotone", "strokeWidth": 2.8, "color": "#1e1e1e"},
      "encoding": {
        "x": {"field": "x", "type": "quantitative", "scale": {"domain": [-55.5, 53.7], "nice": false, "zero": false}, "axis": null},
        "y": {"field": "cdr", "type": "quantitative", "scale": {"domain": [0.0000432, 0.000444], "nice": false, "zero": false}, "axis": null},
        "strokeDash": {"condition": [{"test": "datum.age === '6-month-olds'", "value": [27, 13]}, {"test": "datum.age === '7.5-month-olds'", "value": [40, 20, 5, 20]}], "value": [1, 0]},
        "opacity": {"field": "age", "type": "nominal", "scale": {"domain": ["4.5-month-olds", "6-month-olds", "7.5-month-olds"], "range": [1, 1, 1]}, "legend": {"title": null}}
      }
    },
    {
      "width": 574, "height": 579,
      "title": {"text": "CDR per mm³", "orient": "left", "anchor": "end", "align": "center", "baseline": "alphabetic", "font": "Liberation Serif", "fontWeight": "bold", "fontSize": 90, "color": "black", "offset": -287},
      "transform": [{"filter": "datum.region === 'Temporal Pole' && datum.stimulus === 'Toys'"}],
      "mark": {"type": "line", "interpolate": "monotone", "strokeWidth": 2.8, "color": "#1e1e1e"},
      "encoding": {
        "x": {"field": "x", "type": "quantitative", "scale": {"domain": [-55.7, 54.2], "nice": false, "zero": false},
              "axis": {"values": [-50, -30, -10, 10, 30, 50], "labelExpr": "toString(datum.value)", "labelFont": "Liberation Sans", "labelFontSize": 28, "labelColor": "#333", "labelPadding": 13, "tickSize": 16, "tickWidth": 2, "tickColor": "#222", "domain": true, "domainColor": "black", "domainWidth": 3, "grid": false, "labelFlush": false, "title": null}},
        "y": {"field": "cdr", "type": "quantitative", "scale": {"domain": [0.0000549, 0.000455], "nice": false, "zero": false},
              "axis": {"values": [0.0001, 0.0002, 0.0003, 0.0004], "format": ".4f", "labelFont": "Liberation Sans", "labelFontSize": 33, "labelColor": "#333", "labelPadding": 10, "tickSize": 14, "tickWidth": 2, "tickColor": "#333", "domain": false, "grid": false, "labelFlush": false,
                       "title": "Toys", "titleFont": "Liberation Serif", "titleFontWeight": "bold", "titleFontSize": 86, "titleColor": "black", "titleAngle": 270, "titleX": -337, "titleY": 290, "titleAlign": "center", "titleBaseline": "alphabetic"}},
        "strokeDash": {"condition": [{"test": "datum.age === '6-month-olds'", "value": [27, 13]}, {"test": "datum.age === '7.5-month-olds'", "value": [40, 20, 5, 20]}], "value": [1, 0]},
        "opacity": {"field": "age", "type": "nominal", "scale": {"domain": ["4.5-month-olds", "6-month-olds", "7.5-month-olds"], "range": [1, 1, 1]}, "legend": {"title": null}}
      }
    },
    {
      "width": 578, "height": 579,
      "transform": [{"filter": "datum.region === 'Anterior Fusiform' && datum.stimulus === 'Toys'"}],
      "mark": {"type": "line", "interpolate": "monotone", "strokeWidth": 2.8, "color": "#1e1e1e"},
      "encoding": {
        "x": {"field": "x", "type": "quantitative", "scale": {"domain": [-62.7, 58.0], "nice": false, "zero": false},
              "axis": {"values": [-50, -30, -10, 10, 30, 50], "labelExpr": "toString(datum.value)", "labelFont": "Liberation Sans", "labelFontSize": 28, "labelColor": "#333", "labelPadding": 13, "tickSize": 16, "tickWidth": 2, "tickColor": "#222", "domain": true, "domainColor": "black", "domainWidth": 3, "grid": false, "labelFlush": false, "title": null}},
        "y": {"field": "cdr", "type": "quantitative", "scale": {"domain": [0.0000549, 0.000455], "nice": false, "zero": false}, "axis": null},
        "strokeDash": {"condition": [{"test": "datum.age === '6-month-olds'", "value": [27, 13]}, {"test": "datum.age === '7.5-month-olds'", "value": [40, 20, 5, 20]}], "value": [1, 0]},
        "opacity": {"field": "age", "type": "nominal", "scale": {"domain": ["4.5-month-olds", "6-month-olds", "7.5-month-olds"], "range": [1, 1, 1]}, "legend": {"title": null}}
      }
    },
    {
      "width": 573, "height": 579,
      "transform": [{"filter": "datum.region === 'Middle Fusiform' && datum.stimulus === 'Toys'"}],
      "mark": {"type": "line", "interpolate": "monotone", "strokeWidth": 2.8, "color": "#1e1e1e"},
      "encoding": {
        "x": {"field": "x", "type": "quantitative", "scale": {"domain": [-55.5, 53.7], "nice": false, "zero": false},
              "axis": {"values": [-50, -30, -10, 10, 30, 50], "labelExpr": "toString(datum.value)", "labelFont": "Liberation Sans", "labelFontSize": 28, "labelColor": "#333", "labelPadding": 13, "tickSize": 16, "tickWidth": 2, "tickColor": "#222", "domain": true, "domainColor": "black", "domainWidth": 3, "grid": false, "labelFlush": false, "title": null}},
        "y": {"field": "cdr", "type": "quantitative", "scale": {"domain": [0.0000549, 0.000455], "nice": false, "zero": false}, "axis": null},
        "strokeDash": {"condition": [{"test": "datum.age === '6-month-olds'", "value": [27, 13]}, {"test": "datum.age === '7.5-month-olds'", "value": [40, 20, 5, 20]}], "value": [1, 0]},
        "opacity": {"field": "age", "type": "nominal", "scale": {"domain": ["4.5-month-olds", "6-month-olds", "7.5-month-olds"], "range": [1, 1, 1]}, "legend": {"title": null}}
      }
    }
  ],
  "config": {
    "view": {"stroke": "black", "strokeWidth": 3},
    "axis": {"grid": false}
  }
}
